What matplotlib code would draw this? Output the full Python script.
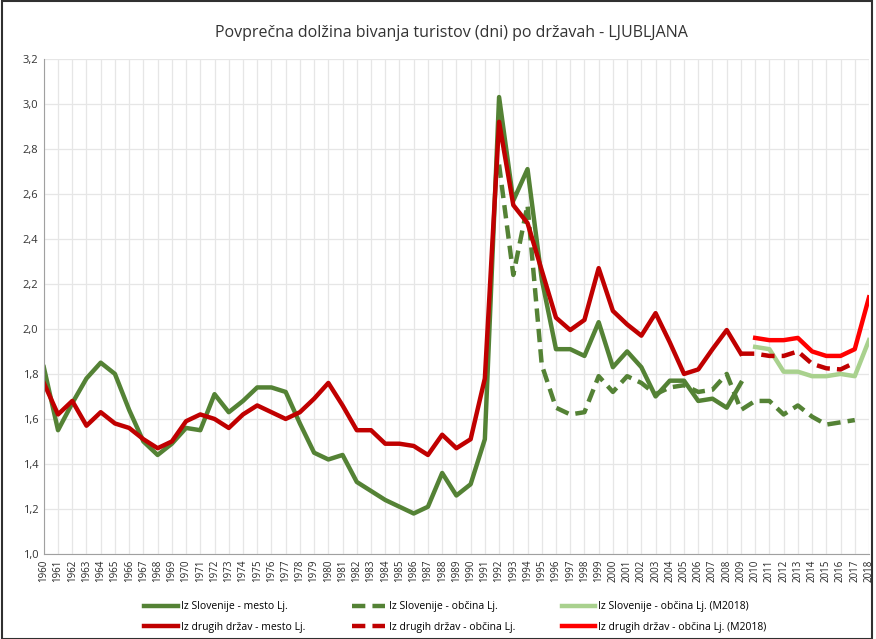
import matplotlib.pyplot as plt
from matplotlib.patches import Rectangle

plt.rcParams['font.family'] = ['Open Sans', 'DejaVu Sans']

years = list(range(1960, 2019))

# Iz Slovenije - mesto Lj. (1960-2009)
slo_mesto = [1.83, 1.55, 1.67, 1.78, 1.85, 1.80, 1.64, 1.50, 1.44, 1.49,
             1.56, 1.55, 1.71, 1.63, 1.68, 1.74, 1.74, 1.72, 1.58, 1.45,
             1.42, 1.44, 1.32, 1.28, 1.24, 1.21, 1.18, 1.21, 1.36, 1.26,
             1.31, 1.51, 3.03, 2.57, 2.71, 2.22, 1.91, 1.91, 1.88, 2.03,
             1.83, 1.90, 1.83, 1.70, 1.77, 1.77, 1.68, 1.69, 1.65, 1.76]
# Iz Slovenije - občina Lj. (1992-2017)
slo_obcina = [2.73, 2.24, 2.55, 1.84, 1.65, 1.62, 1.63, 1.79, 1.72, 1.79,
              1.76, 1.71, 1.74, 1.75, 1.72, 1.73, 1.80, 1.64, 1.68, 1.68,
              1.62, 1.66, 1.61, 1.575, 1.585, 1.595]
# Iz Slovenije - občina Lj. (M2018) (2010-2018)
slo_m2018 = [1.92, 1.91, 1.81, 1.81, 1.79, 1.79, 1.80, 1.79, 1.95]

# Iz drugih držav - mesto Lj. (1960-2009)
tuj_mesto = [1.76, 1.62, 1.68, 1.57, 1.63, 1.58, 1.56, 1.51, 1.47, 1.50,
             1.59, 1.62, 1.60, 1.56, 1.62, 1.66, 1.63, 1.60, 1.63, 1.69,
             1.76, 1.66, 1.55, 1.55, 1.49, 1.49, 1.48, 1.44, 1.53, 1.47,
             1.51, 1.78, 2.92, 2.55, 2.47, 2.26, 2.05, 1.995, 2.04, 2.27,
             2.08, 2.02, 1.97, 2.07, 1.94, 1.80, 1.82, 1.91, 1.995, 1.89]
# Iz drugih držav - občina Lj. (2009-2017)
tuj_obcina = [1.89, 1.89, 1.88, 1.88, 1.90, 1.845, 1.825, 1.82, 1.85]
# Iz drugih držav - občina Lj. (M2018) (2010-2018)
tuj_m2018 = [1.96, 1.95, 1.95, 1.96, 1.90, 1.88, 1.88, 1.91, 2.14]

dark_green = '#548235'
light_green = '#A9D18E'
dark_red = '#C00000'
red = '#FF0000'

fig = plt.figure(figsize=(8.76, 6.39), dpi=100)
ax = fig.add_axes([0.050, 0.133, 0.942, 0.775])

lw = 3.2
l1, = ax.plot(years[:50], slo_mesto, color=dark_green, lw=lw,
              label='Iz Slovenije - mesto Lj.')
l2, = ax.plot(years[32:58], slo_obcina, color=dark_green, lw=lw,
              dashes=(3, 1.6), label='Iz Slovenije - občina Lj.')
l3, = ax.plot(years[50:], slo_m2018, color=light_green, lw=lw,
              label='Iz Slovenije - občina Lj. (M2018)')
l4, = ax.plot(years[:50], tuj_mesto, color=dark_red, lw=lw,
              label='Iz drugih držav - mesto Lj.')
l5, = ax.plot(years[49:58], tuj_obcina, color=dark_red, lw=lw,
              dashes=(3, 1.6), label='Iz drugih držav - občina Lj.')
l6, = ax.plot(years[50:], tuj_m2018, color=red, lw=lw,
              label='Iz drugih držav - občina Lj. (M2018)')

ax.set_xlim(1960, 2018)
ax.set_ylim(1.0, 3.2)
ax.set_xticks(years)
ax.set_xticklabels([str(y) for y in years], rotation=90, fontsize=7,
                   color='#262626')
yt = [1.0 + 0.2 * i for i in range(12)]
ax.set_yticks(yt)
ax.set_yticklabels([f'{v:.1f}'.replace('.', ',') for v in yt], fontsize=8,
                   color='#333333')
ax.tick_params(length=0, pad=4)
ax.grid(True, color='#E6E6E6', lw=0.9)
ax.set_axisbelow(True)
for s in ['top', 'right']:
    ax.spines[s].set_visible(False)
for s in ['left', 'bottom']:
    ax.spines[s].set_color('#A0A0A0')

fig.text(0.515, 0.948, 'Povprečna dolžina bivanja turistov (dni) po državah - LJUBLJANA',
         ha='center', va='center', fontsize=11.5, color='#333333')

fig.legend(handles=[l1, l4, l2, l5, l3, l6], ncol=3, loc='lower center',
           bbox_to_anchor=(0.52, -0.005), frameon=False, fontsize=7.5,
           handlelength=3.2, handletextpad=0.3, columnspacing=4.5,
           labelspacing=0.9)

fig.patches.append(Rectangle((0.002, 0.0), 0.994, 0.999, transform=fig.transFigure,
                             fill=False, edgecolor='#303030', lw=1.5))

fig.savefig('out.png', dpi=100)
